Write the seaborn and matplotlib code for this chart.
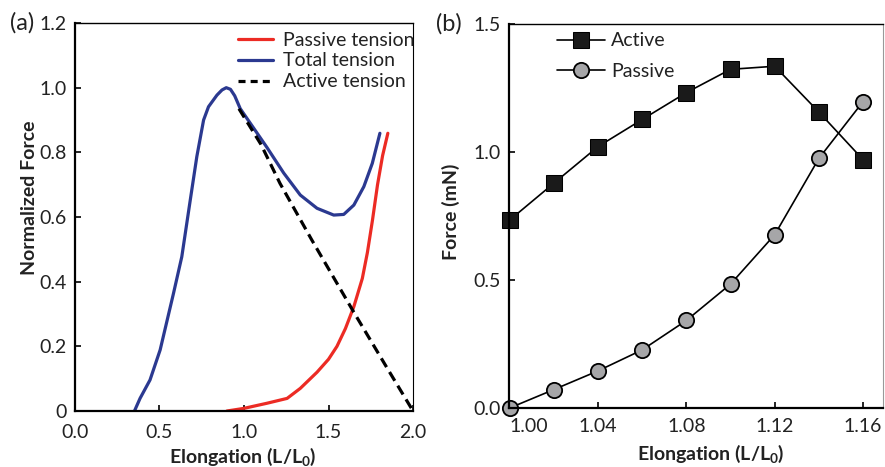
import matplotlib
matplotlib.use("Agg")
import matplotlib.pyplot as plt
import seaborn as sns
import numpy as np

# ---------------- data ----------------
# Panel (a)
total_x = [0.352, 0.385, 0.444, 0.504, 0.583, 0.632, 0.682, 0.721, 0.761, 0.79, 0.84, 0.87,
           0.895, 0.92, 0.945, 0.978, 1.057, 1.136, 1.235, 1.333, 1.432, 1.531, 1.59, 1.65,
           1.709, 1.759, 1.804]
total_y = [0.0, 0.039, 0.096, 0.189, 0.364, 0.477, 0.652, 0.787, 0.9, 0.941, 0.977, 0.993,
           1.0, 0.995, 0.975, 0.935, 0.875, 0.815, 0.736, 0.668, 0.627, 0.606, 0.608, 0.637,
           0.694, 0.766, 0.859]
passive_x = [0.899, 0.998, 1.136, 1.255, 1.333, 1.432, 1.5, 1.55, 1.6, 1.65, 1.7, 1.73,
             1.76, 1.79, 1.82, 1.851]
passive_y = [0.0, 0.008, 0.024, 0.039, 0.07, 0.12, 0.16, 0.2, 0.255, 0.323, 0.41, 0.49,
             0.59, 0.70, 0.79, 0.859]
active_x = [0.97, 1.1, 1.213, 1.4, 1.648, 1.85, 2.0]
active_y = [0.935, 0.825, 0.704, 0.53, 0.307, 0.13, 0.0]

# Panel (b)
elong_b = [1.00, 1.02, 1.04, 1.06, 1.08, 1.10, 1.12, 1.14, 1.16]
active_b = [0.734, 0.878, 1.021, 1.127, 1.232, 1.323, 1.335, 1.156, 0.970]
passive_b = [0.0, 0.072, 0.145, 0.227, 0.342, 0.484, 0.677, 0.975, 1.197]

a_xticks = [0.0, 0.5, 1.0, 1.5, 2.0]
a_xticklabels = ["0.0", "0.5", "1.0", "1.5", "2.0"]
a_yticks = [0, 0.2, 0.4, 0.6, 0.8, 1.0, 1.2]
a_yticklabels = ["0", "0.2", "0.4", "0.6", "0.8", "1.0", "1.2"]
b_xticks = [1.00, 1.04, 1.08, 1.12, 1.16]
b_xticklabels = ["1.00", "1.04", "1.08", "1.12", "1.16"]
b_yticks = [0.0, 0.5, 1.0, 1.5]
b_yticklabels = ["0.0", "0.5", "1.0", "1.5"]

# ---------------- style ----------------
sns.set_theme(style="ticks")
FONT = ["Lato", "DejaVu Sans"]
plt.rcParams["font.family"] = FONT
plt.rcParams["mathtext.fontset"] = "custom"
plt.rcParams["mathtext.rm"] = "Lato:bold"
plt.rcParams["mathtext.it"] = "Lato:bold"
plt.rcParams["mathtext.bf"] = "Lato:bold"
FS = 14
TXT = "#222222"

fig = plt.figure(figsize=(8.85, 4.67), dpi=100)
ax1 = fig.add_axes([0.0847, 0.1199, 0.4667 - 0.0847, 0.9507 - 0.1199])
ax2 = fig.add_axes([0.5751, 0.1263, 0.9977 - 0.5751, 0.9486 - 0.1263])

RED = "#EC2B24"
BLUE = "#2B3990"

# ---- panel (a) ----
sns.lineplot(x=passive_x, y=passive_y, ax=ax1, color=RED, lw=2.3, estimator=None,
             sort=False, label="Passive tension")
sns.lineplot(x=total_x, y=total_y, ax=ax1, color=BLUE, lw=2.3, estimator=None,
             sort=False, label="Total tension")
sns.lineplot(x=active_x, y=active_y, ax=ax1, color="black", lw=2.3, estimator=None,
             sort=False, label="Active tension", dashes=False)
ax1.lines[-1].set_dashes([3.2, 1.8])
ax1.lines[-1].set_clip_on(False)

ax1.set_xlim(0, 2.0)
ax1.set_ylim(0, 1.2)
ax1.set_xticks(a_xticks)
ax1.set_xticklabels(a_xticklabels)
ax1.set_yticks(a_yticks)
ax1.set_yticklabels(a_yticklabels)
ax1.set_xlabel(r"Elongation (L/L$_0$)", fontsize=FS, fontweight="bold", color=TXT)
ax1.set_ylabel("Normalized Force", fontsize=FS, fontweight="bold", color=TXT)
ax1.xaxis.set_label_coords(0.495, -0.09)
ax1.yaxis.set_label_coords(-0.11, 0.55)

leg1 = ax1.legend(loc="upper left", bbox_to_anchor=(0.482, 0.978), frameon=False,
                  fontsize=FS, handlelength=1.8, handletextpad=0.5, labelspacing=0.2,
                  borderpad=0, borderaxespad=0)
for t in leg1.get_texts():
    t.set_color(TXT)
leg1.get_lines()[2].set_dashes([2.2, 1.6])

# ---- panel (b) ----
sns.lineplot(x=elong_b, y=active_b, ax=ax2, color="black", lw=1.2, marker="s",
             markersize=11.5, markerfacecolor="#1a1a1a", markeredgecolor="black",
             estimator=None, label="Active", clip_on=False)
sns.lineplot(x=elong_b, y=passive_b, ax=ax2, color="black", lw=1.2, marker="o",
             markersize=11, markerfacecolor="#A6A6A8", markeredgecolor="black",
             markeredgewidth=1.3, estimator=None, label="Passive", clip_on=False)

ax2.set_xlim(0.9997, 1.169)
ax2.set_ylim(0, 1.5)
ax2.set_xticks(b_xticks)
ax2.set_xticklabels(b_xticklabels)
ax2.get_xticklabels()[0].set_horizontalalignment("left")
ax2.set_yticks(b_yticks)
ax2.set_yticklabels(b_yticklabels)
ax2.set_xlabel(r"Elongation (L/L$_0$)", fontsize=FS, fontweight="bold", color=TXT)
ax2.set_ylabel("Force (mN)", fontsize=FS, fontweight="bold", color=TXT)
ax2.xaxis.set_label_coords(0.54, -0.09)
ax2.yaxis.set_label_coords(-0.13, 0.51)

leg2 = ax2.legend(loc="upper left", bbox_to_anchor=(0.128, 0.978), frameon=False,
                  fontsize=FS, handlelength=2.5, handletextpad=0.3, labelspacing=0.7,
                  borderpad=0, borderaxespad=0)
for t in leg2.get_texts():
    t.set_color(TXT)

# ---- axes styling ----
for ax in (ax1, ax2):
    ax.tick_params(axis="both", direction="in", length=4, width=1.2, labelsize=FS,
                   colors="black", labelcolor=TXT, pad=6, top=False, right=False)
    ax.spines["left"].set_linewidth(1.6)
    ax.spines["bottom"].set_linewidth(1.6)
    ax.spines["top"].set_linewidth(1.0)
    ax.spines["right"].set_linewidth(0.8)
    for s in ax.spines.values():
        s.set_color("black")
        s.set_visible(True)
ax1.tick_params(axis="x", pad=9.5)
ax2.tick_params(axis="x", pad=7)
ax2.spines["right"].set_color("#999999")

fig.text(0.011, 0.951, "(a)", fontsize=17, color=TXT, va="center", ha="left")
fig.text(0.493, 0.949, "(b)", fontsize=17, color=TXT, va="center", ha="left")

fig.savefig("out.png", dpi=100)
